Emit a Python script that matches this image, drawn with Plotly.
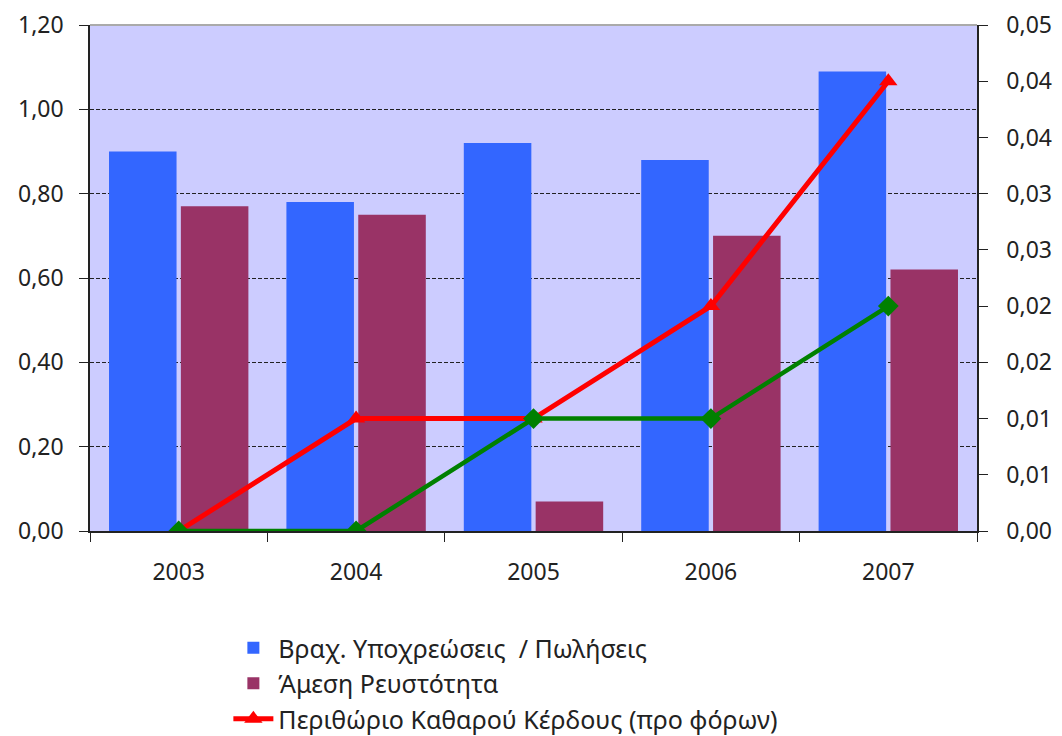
import plotly.graph_objects as go

years = ["2003", "2004", "2005", "2006", "2007"]
short_liab_sales = [0.90, 0.78, 0.92, 0.88, 1.09]
quick_liquidity = [0.77, 0.75, 0.07, 0.70, 0.62]
net_margin_pretax = [0.0, 0.01, 0.01, 0.02, 0.04]
net_margin_aftertax = [0.0, 0.0, 0.01, 0.01, 0.02]

left_ticks = [0.0, 0.2, 0.4, 0.6, 0.8, 1.0, 1.2]
right_ticks = [0.0, 0.005, 0.01, 0.015, 0.02, 0.025, 0.03, 0.035, 0.04, 0.045]
right_labels = ["0,00", "0,01", "0,01", "0,02", "0,02", "0,03", "0,03", "0,04", "0,04", "0,05"]

FONT = "Noto Sans"

fig = go.Figure()
fig.add_trace(go.Bar(x=years, y=short_liab_sales, name="Βραχ. Υποχρεώσεις  / Πωλήσεις",
                     marker=dict(color="#3366FF", line=dict(width=0))))
fig.add_trace(go.Bar(x=years, y=quick_liquidity, name="Άμεση Ρευστότητα",
                     marker=dict(color="#993366", line=dict(width=0))))
fig.add_trace(go.Scatter(x=years, y=net_margin_pretax, yaxis="y2", mode="lines+markers",
                         name="Περιθώριο Καθαρού Κέρδους (προ φόρων)",
                         line=dict(color="#FF0000", width=5),
                         marker=dict(symbol="triangle-up", size=16, color="#FF0000")))
fig.add_trace(go.Scatter(x=years, y=net_margin_aftertax, yaxis="y2", mode="lines+markers",
                         name="Περιθώριο Καθαρού Κέρδους (μετά φόρων)", showlegend=False,
                         line=dict(color="#008000", width=4.5),
                         marker=dict(symbol="diamond", size=16, color="#008000")))

axis_common = dict(showline=True, linecolor="#222222", linewidth=1.5,
                   ticks="outside", ticklen=9, tickcolor="#222222", automargin=False)

# page body has an 8px margin, so the figure is 8px smaller than the window
fig.update_layout(
    width=1054, height=728,
    margin=dict(l=82, r=85, t=17, b=205, autoexpand=False),
    paper_bgcolor="white",
    plot_bgcolor="#CCCCFF",
    separators=",.",
    barmode="group",
    bargap=0.19,
    bargroupgap=0.06,
    font=dict(family=FONT, size=23, color="#222222"),
    xaxis=dict(type="category", tickson="boundaries", showgrid=False,
               ticklabelstandoff=20, **axis_common),
    yaxis=dict(range=[0, 1.2], tickvals=left_ticks, tickformat=".2f",
               showgrid=True, gridcolor="#222222", griddash="4px,2px", gridwidth=1,
               zeroline=False, ticklabelstandoff=11, **axis_common),
    yaxis2=dict(range=[0, 0.045], overlaying="y", side="right",
                tickvals=right_ticks, ticktext=right_labels,
                showgrid=False, zeroline=False, ticklabelstandoff=14, **axis_common),
    legend=dict(x=0.156, y=-0.186, xanchor="left", yanchor="top",
                bgcolor="rgba(0,0,0,0)", font=dict(size=25), tracegroupgap=0,
                itemwidth=40),
    shapes=[dict(type="line", xref="paper", yref="paper", x0=0, x1=1, y0=1, y1=1,
                 line=dict(color="#AAAAAA", width=2))],
)

fig.write_html("out.html")
